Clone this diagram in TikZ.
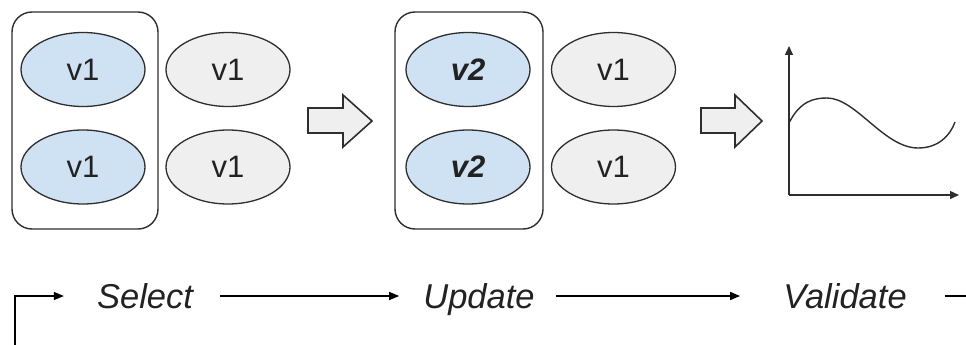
\documentclass[tikz,border=0pt]{standalone}
\usepackage{fontspec}
\setmainfont{Liberation Sans}
\usetikzlibrary{arrows.meta,calc,shapes.geometric}
\definecolor{pickblue}{HTML}{CFE2F3}
\definecolor{restgray}{HTML}{EFEFEF}
\definecolor{inkline}{HTML}{2E2E2E}
\definecolor{inktext}{HTML}{222222}
\tikzset{
  group/.style={draw=inkline, line width=1.4pt, rounded corners=20pt},
  replica/.style={ellipse, draw=inkline, line width=1.3pt, minimum width=124pt,
    minimum height=74pt, inner sep=0pt, text=inktext,
    font=\fontsize{31}{33}\selectfont},
  chosen/.style={replica, fill=pickblue},
  idle/.style={replica, fill=restgray},
  blockarrow/.style={draw=inkline, line width=1.6pt, fill=restgray, line join=miter},
  axis/.style={draw=inkline, line width=1.4pt, -{Triangle[length=9pt,width=8pt]}},
  stage/.style={inner sep=0pt, text height=24pt, text depth=0pt, text=inktext,
    font=\fontsize{34.5}{37}\selectfont\itshape},
  flow/.style={draw=black, line width=1.4pt, -{Triangle[length=10pt,width=8pt]}},
}
\begin{document}
\begin{tikzpicture}[x=1pt,y=-1pt]
\useasboundingbox (0,0) rectangle (966,345);

% first snapshot: all replicas at v1, two of them selected
\draw[group] (12,12) rectangle (158,229);
\node[chosen] (a1) at (83,69.5) {v1};
\node[chosen] (a2) at (83,167) {v1};
\node[idle]   (a3) at (228,69.5) {v1};
\node[idle]   (a4) at (228,167) {v1};

% block arrow between the snapshots
\draw[blockarrow] (308,108) -- (343,108) -- (343,95) -- (372,121) -- (343,147)
  -- (343,133) -- (308,133) -- cycle;

% second snapshot: selected replicas updated to v2
\draw[group] (395,12) rectangle (543,229);
\node[chosen] (b1) at (468,69.5) {\bfseries\itshape v2};
\node[chosen] (b2) at (468,167) {\bfseries\itshape v2};
\node[idle]   (b3) at (613.5,69.5) {v1};
\node[idle]   (b4) at (613.5,167) {v1};

% block arrow towards the validation plot
\draw[blockarrow] (701,108) -- (735,108) -- (735,95) -- (762,121) -- (735,147)
  -- (735,133) -- (701,133) -- cycle;

% validation plot
\coordinate (origin) at (789,195);
\coordinate (ytop) at (789,46);
\coordinate (xend) at (959,195);
\draw[axis] (origin) -- (ytop);
\draw[axis] (origin) -- (xend);
\draw[inkline, line width=1.4pt] (789,123) .. controls (800,101) and (814,98) .. (827,98)
  .. controls (856,98) and (884,148) .. (918,148)
  .. controls (938,148) and (950,136) .. (955,122);

% workflow row
\node[stage] (sel) at (145,296) {Select};
\node[stage] (upd) at (479,296) {Update};
\node[stage] (val) at (845,296) {Validate};
\coordinate (loopin) at (15,350);
\coordinate (loopout) at (970,296);
\draw[flow] (loopin) |- ([xshift=-33pt]sel.west);
\draw[flow, shorten <=27pt, shorten >=24pt] (sel.east) -- (upd.west);
\draw[flow, shorten <=21pt, shorten >=43pt] (upd.east) -- (val.west);
\draw[draw=black, line width=1.4pt, shorten <=38pt] (val.east) -- (loopout);
\end{tikzpicture}
\end{document}
